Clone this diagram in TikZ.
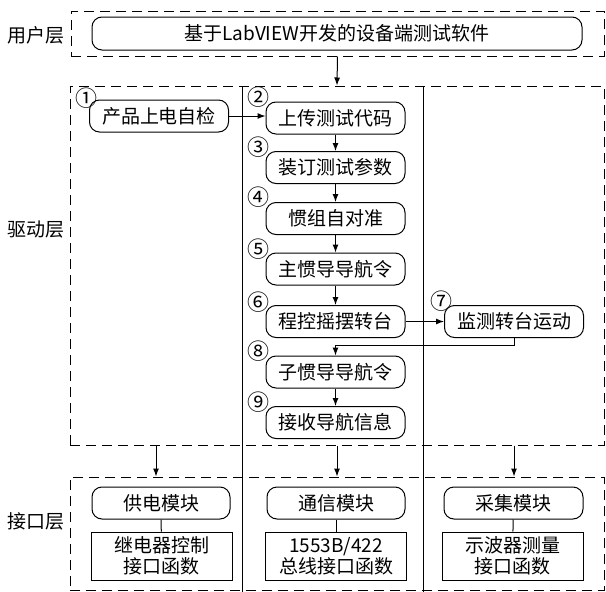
\documentclass[tikz,border=0pt]{standalone}
\usepackage{fontspec}
\setmainfont{Noto Sans CJK SC}
\usetikzlibrary{arrows.meta}
\begin{document}
\begin{tikzpicture}[x=1pt,y=-1pt,
  every node/.style={font=\fontsize{19}{22}\selectfont},
  layer/.style={draw, line width=1pt, dash pattern=on 10pt off 6pt, inner sep=0pt},
  rnode/.style={draw, line width=1pt, rounded corners=10pt, minimum width=139pt, minimum height=32pt, inner sep=0pt},
  rbox/.style={draw, line width=1pt, minimum width=141pt, minimum height=48pt, inner sep=0pt, align=center, font=\fontsize{19}{21}\selectfont},
  num/.style={inner sep=0pt, font=\fontsize{22}{22}\selectfont},
  lbl/.style={inner sep=0pt},
  arr/.style={-{Latex[length=8pt,width=6pt]}, line width=1pt},
  ln/.style={line width=1pt}]
\useasboundingbox (0,0) rectangle (606,592);
% layers
\node[layer, minimum width=533pt, minimum height=45pt] (ul) at (337.5,33.5) {};
\node[layer, minimum width=534pt, minimum height=359pt] (dl) at (337,265.5) {};
\node[layer, minimum width=534pt, minimum height=113pt] (il) at (337,533.5) {};
\node[lbl] (tu) at (36,35) {用户层};
\node[lbl] (td) at (36,230) {驱动层};
\node[lbl] (ti) at (36,521) {接口层};
% vertical separators
\coordinate (v1t) at (242,86); \coordinate (v1b) at (242,592);
\coordinate (v2t) at (423,86); \coordinate (v2b) at (423,592);
\draw[ln] (v1t) -- (v1b);
\draw[ln] (v2t) -- (v2b);
% user node
\node[rnode, minimum width=490pt, minimum height=33pt] (us) at (337,33.5) {基于LabVIEW开发的设备端测试软件};
% driver nodes
\node[rnode] (n1) at (159,116) {产品上电自检};
\node[rnode] (n2) at (335.5,118) {上传测试代码};
\node[rnode] (n3) at (335.5,167.5) {装订测试参数};
\node[rnode] (n4) at (335.5,218.5) {惯组自对准};
\node[rnode] (n5) at (335.5,269) {主惯导导航令};
\node[rnode] (n6) at (335.5,321.5) {程控摇摆转台};
\node[rnode] (n7) at (514,321.5) {监测转台运动};
\node[rnode] (n8) at (335.5,372) {子惯导导航令};
\node[rnode] (n9) at (335.5,422.5) {接收导航信息};
\node[num] (c1) at (86,98) {①};
\node[num] (c2) at (258,97) {②};
\node[num] (c3) at (258,147) {③};
\node[num] (c4) at (258,197) {④};
\node[num] (c5) at (258,249) {⑤};
\node[num] (c6) at (258,302) {⑥};
\node[num] (c7) at (441,301) {⑦};
\node[num] (c8) at (258,351) {⑧};
\node[num] (c9) at (258,402) {⑨};
% interface nodes
\node[rnode, minimum width=138pt] (m1) at (161,503) {供电模块};
\node[rnode, minimum width=138pt] (m2) at (336,503) {通信模块};
\node[rnode, minimum width=139pt] (m3) at (513.5,503) {采集模块};
\node[rbox] (f1) at (161.5,556) {继电器控制\\接口函数};
\node[rbox] (f2) at (336,556) {1553B/422\\总线接口函数};
\node[rbox] (f3) at (512.5,556) {示波器测量\\接口函数};
\draw[ln] (m1) -- (f1);
\draw[ln] (m2) -- (f2);
\draw[ln] (m3) -- (f3);
% connectors
\draw[arr] (ul.south) -- (dl.north);
\draw[arr] (n1.east) -- (n1.east -| n2.west);
\draw[arr] (n2) -- (n3);
\draw[arr] (n3) -- (n4);
\draw[arr] (n4) -- (n5);
\draw[arr] (n5) -- (n6);
\draw[arr] (n6) -- (n7);
\coordinate (ky) at (0,345);
\draw[arr] (n7.south) -- (n7.south |- ky) -| (n8.north);
\draw[arr] (n8) -- (n9);
\coordinate (a1) at (156,0);
\coordinate (a2) at (337,0);
\coordinate (a3) at (514,0);
\draw[arr] (a1 |- dl.south) -- (a1 |- il.north);
\draw[arr] (a2 |- dl.south) -- (a2 |- il.north);
\draw[arr] (a3 |- dl.south) -- (a3 |- il.north);
\end{tikzpicture}
\end{document}
